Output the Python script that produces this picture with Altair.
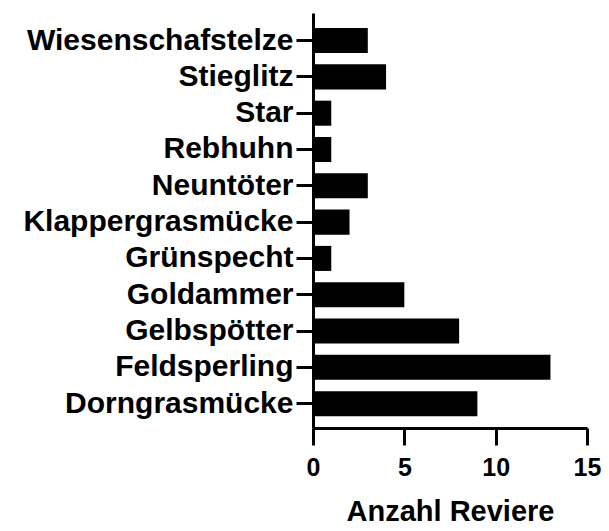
import altair as alt
import pandas as pd

species = ["Dorngrasmücke", "Feldsperling", "Gelbspötter", "Goldammer", "Grünspecht",
           "Klappergrasmücke", "Neuntöter", "Rebhuhn", "Star", "Stieglitz", "Wiesenschafstelze"]
counts = [9, 13, 8, 5, 1, 2, 3, 1, 1, 4, 3]
x_ticks = [0, 5, 10, 15]

df = pd.DataFrame({"Art": species, "Anzahl": counts})
order = species[::-1]

FONT = "Liberation Sans"

chart = alt.Chart(df).mark_bar(color="black").encode(
    x=alt.X("Anzahl:Q",
            scale=alt.Scale(domain=[0, 15], nice=False),
            axis=alt.Axis(values=x_ticks, title="Anzahl Reviere", grid=False,
                          domainColor="black", domainWidth=3,
                          tickColor="black", tickWidth=3, tickSize=17,
                          labelFont=FONT, labelFontSize=25, labelFontWeight="bold",
                          labelColor="black", labelPadding=10, labelFlush=False,
                          labelOverlap=False,
                          titleFont=FONT, titleFontSize=29, titleFontWeight="bold",
                          titleColor="black", titlePadding=17)),
    y=alt.Y("Art:N", sort=order,
            scale=alt.Scale(paddingInner=0.31, paddingOuter=0.37, align=0.56),
            axis=alt.Axis(title=None, grid=False,
                          domainColor="black", domainWidth=3,
                          tickColor="black", tickWidth=3, tickSize=17,
                          labelFont=FONT, labelFontSize=30, labelFontWeight="bold",
                          labelColor="black", labelPadding=3, labelLimit=400)),
).properties(
    width=274, height=415,
    autosize=alt.AutoSizeParams(type="none"),
    padding={"left": 305, "top": 5, "right": 14, "bottom": 100},
).configure_view(stroke=None)

chart.save("out.html", embed_options={"renderer": "svg", "actions": False})
